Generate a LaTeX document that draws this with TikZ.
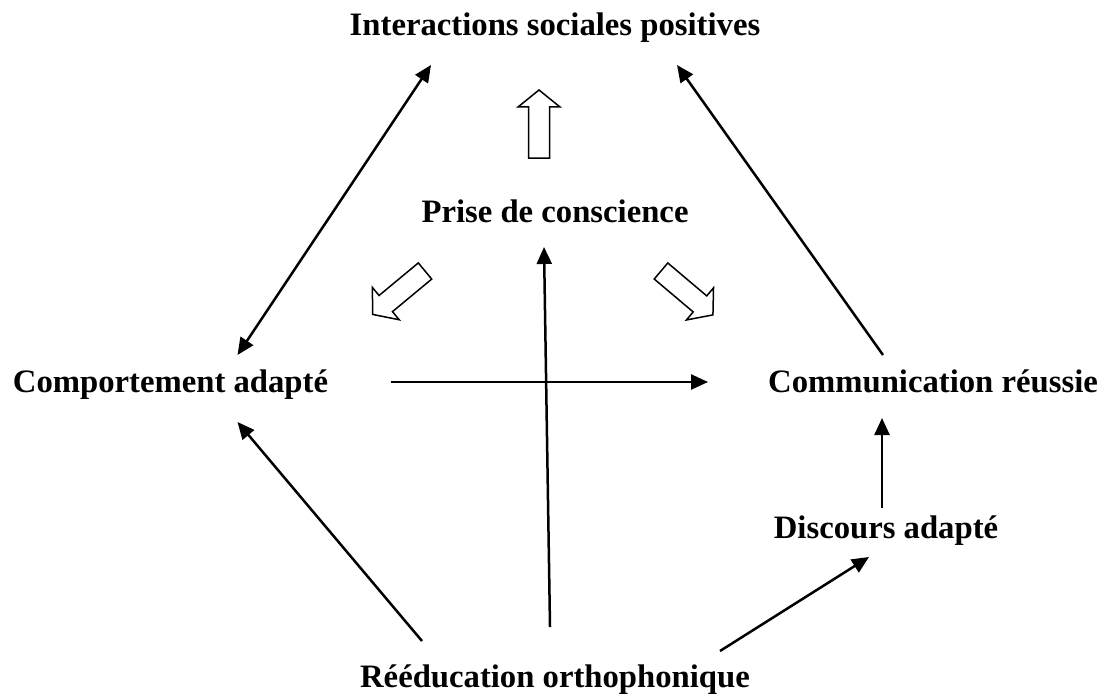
\documentclass[tikz,border=0pt]{standalone}
\usepackage{fontspec}
\setmainfont{Liberation Serif}
\usetikzlibrary{arrows.meta}
\tikzset{
  lbl/.style={anchor=base, inner sep=0pt, font=\bfseries\fontsize{32.7}{36}\selectfont},
  tipA/.tip={Triangle[length=17pt,width=15pt]},
  arr/.style={line width=2.5pt, -tipA},
  darr/.style={line width=2.5pt, tipA-tipA},
  hollow/.style={draw, line width=1.5pt, fill=white, line join=miter}
}
\newcommand{\hollowarrow}{(0,-10.5) -- (51,-10.5) -- (51,-21) -- (68,0) -- (51,21) -- (51,10.5) -- (0,10.5) -- cycle}
\begin{document}
\begin{tikzpicture}[x=1pt, y=-1pt]
\useasboundingbox (0,0) rectangle (1107,698);
\node[lbl] (int)  at (555,36)  {Interactions sociales positives};
\node[lbl] (pc)   at (555,222) {Prise de conscience};
\node[lbl] (comp) at (170.5,392) {Comportement adapté};
\node[lbl] (comm) at (933,392) {Communication réussie};
\node[lbl] (disc) at (886,538) {Discours adapté};
\node[lbl] (reed) at (555,687) {Rééducation orthophonique};

\draw[darr] ([shift={(67,-37)}]comp.base) -- ([shift={(-124,29)}]int.base);
\draw[arr] ([shift={(-50,-37)}]comm.base) -- ([shift={(122,29)}]int.base);
\draw[arr] ([shift={(220,-10)}]comp.base) -- ([shift={(-225,-10)}]comm.base);
\draw[arr] ([shift={(-4,-30)}]disc.base) -- ([shift={(-51,26)}]comm.base);
\draw[arr] ([shift={(165,-36)}]reed.base) -- ([shift={(-17,19)}]disc.base);
\draw[arr] ([shift={(-5,-60)}]reed.base) -- ([shift={(-11,25)}]pc.base);
\draw[arr] ([shift={(-133,-46)}]reed.base) -- ([shift={(67,30)}]comp.base);

\begin{scope}[shift={(pc.base)}, shift={(-16,-64)}, rotate=90]
  \draw[hollow] \hollowarrow;
\end{scope}
\begin{scope}[shift={(pc.base)}, shift={(-130,49)}, rotate=219.7]
  \draw[hollow] \hollowarrow;
\end{scope}
\begin{scope}[shift={(pc.base)}, shift={(106,49)}, rotate=-40.2]
  \draw[hollow] \hollowarrow;
\end{scope}
\end{tikzpicture}
\end{document}
